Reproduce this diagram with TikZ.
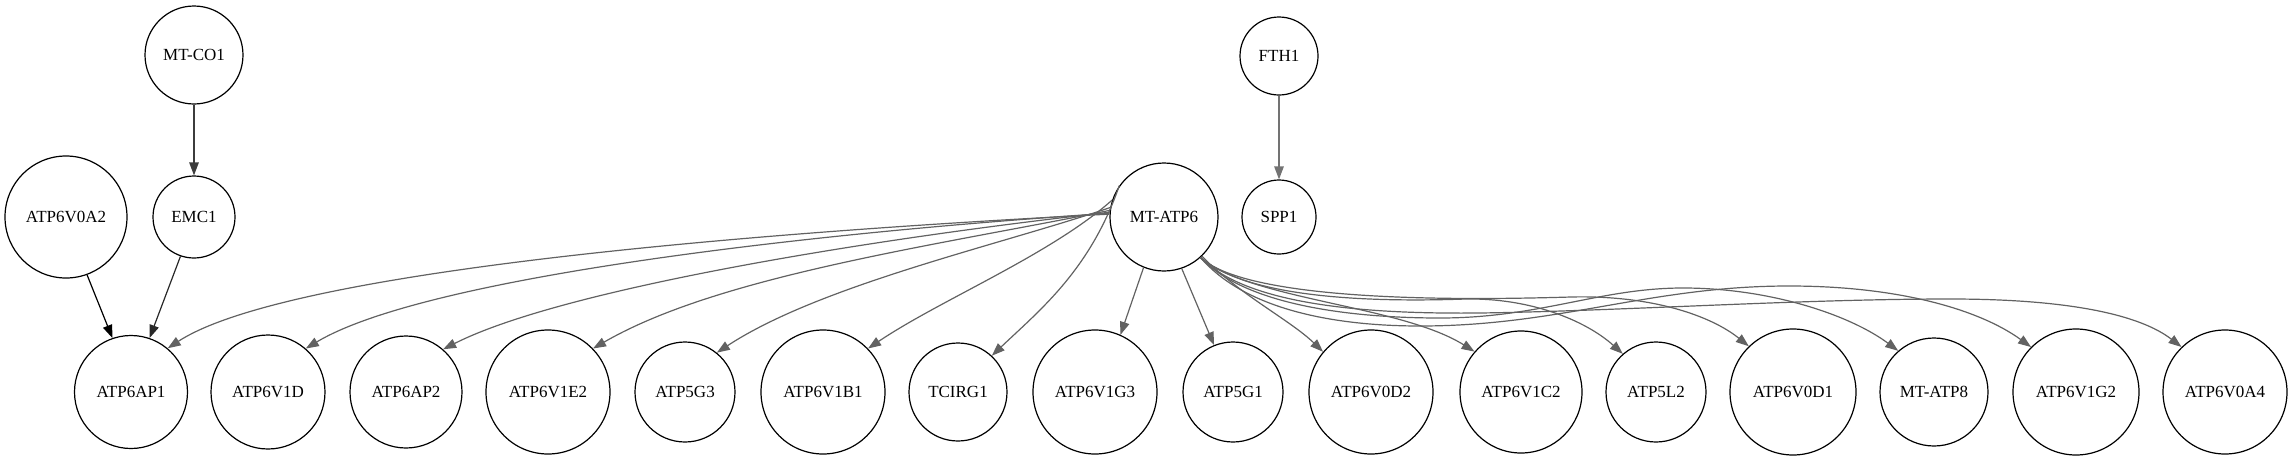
\documentclass[tikz,border=0pt]{standalone}
\usepackage{fontspec}
\setmainfont{Liberation Serif}
\usetikzlibrary{arrows.meta}
\definecolor{edgegray}{RGB}{98,98,98}
\definecolor{darkedge}{RGB}{60,60,60}
\definecolor{darkeredge}{RGB}{40,40,40}
\definecolor{lightedge}{RGB}{115,115,115}
\tikzset{
  gn/.style={circle, draw=black, line width=1.2pt, inner sep=0pt, font=\fontsize{17}{20}\selectfont},
  e/.style={draw=edgegray, line width=1.2pt, -{Triangle[length=13pt,width=9.5pt]}},
}
\begin{document}
\begin{tikzpicture}[x=1pt,y=-1pt]
\useasboundingbox (0,0) rectangle (2292,461);
% top rows
\node[gn, minimum size=98pt] (mtco1) at (194,55) {MT-CO1};
\node[gn, minimum size=122pt] (atp6v0a2) at (66,217) {ATP6V0A2};
\node[gn, minimum size=82pt] (emc1) at (194,217) {EMC1};
\node[gn, minimum size=108pt] (mtatp6) at (1164,217) {MT-ATP6};
\node[gn, minimum size=78pt] (fth1) at (1279,56) {FTH1};
\node[gn, minimum size=74pt] (spp1) at (1279,217) {SPP1};
% bottom row
\node[gn, minimum size=113pt] (atp6ap1) at (131,392) {ATP6AP1};
\node[gn, minimum size=114pt] (atp6v1d) at (268,392) {ATP6V1D};
\node[gn, minimum size=112pt] (atp6ap2) at (406,392) {ATP6AP2};
\node[gn, minimum size=124pt] (atp6v1e2) at (548,392) {ATP6V1E2};
\node[gn, minimum size=100pt] (atp5g3) at (685,392) {ATP5G3};
\node[gn, minimum size=124pt] (atp6v1b1) at (823,392) {ATP6V1B1};
\node[gn, minimum size=98pt] (tcirg1) at (958,392) {TCIRG1};
\node[gn, minimum size=124pt] (atp6v1g3) at (1095,392) {ATP6V1G3};
\node[gn, minimum size=100pt] (atp5g1) at (1233,392) {ATP5G1};
\node[gn, minimum size=124pt] (atp6v0d2) at (1371,392) {ATP6V0D2};
\node[gn, minimum size=122pt] (atp6v1c2) at (1521,392) {ATP6V1C2};
\node[gn, minimum size=100pt] (atp5l2) at (1656,392) {ATP5L2};
\node[gn, minimum size=126pt] (atp6v0d1) at (1793,392) {ATP6V0D1};
\node[gn, minimum size=108pt] (mtatp8) at (1934,392) {MT-ATP8};
\node[gn, minimum size=126pt] (atp6v1g2) at (2076,392) {ATP6V1G2};
\node[gn, minimum size=124pt] (atp6v0a4) at (2225,392) {ATP6V0A4};
% simple edges
\draw[e, draw=darkedge, -{Triangle[length=13pt,width=9.5pt,fill=darkedge]}] (mtco1) -- (emc1);
\draw[e, draw=black] (atp6v0a2.-70) -- (atp6ap1.109);
\draw[e, draw=darkeredge] (emc1.-109) -- (atp6ap1.71);
\draw[e, draw=lightedge] (fth1) -- (spp1);
% MT-ATP6 fan to the left
\draw[e] (mtatp6.177) .. controls (700,235) and (280,275) .. (atp6ap1.50);
\draw[e] (mtatp6.176) .. controls (780,235) and (420,280) .. (atp6v1d.49);
\draw[e] (mtatp6.175) .. controls (860,240) and (560,290) .. (atp6ap2.49);
\draw[e] (mtatp6.173) .. controls (940,245) and (720,275) .. (atp6v1e2.44);
\draw[e] (mtatp6.170) .. controls (1000,245) and (820,285) .. (atp5g3.51);
\draw[e] (mtatp6.162) .. controls (1050,255) and (940,300) .. (atp6v1b1.44);
\draw[e] (mtatp6.145) .. controls (1090,270) and (1040,310) .. (tcirg1.47);
\draw[e] (mtatp6.-112) -- (atp6v1g3.66);
\draw[e] (mtatp6.-71) -- (atp5g1.112);
\draw[e] (mtatp6.-46) .. controls (1240,295) and (1290,320) .. (atp6v0d2.140);
% bundle to the right
\draw[e] (mtatp6.-48) .. controls (1250,300) and (1400,305) .. (atp6v1c2.139);
\draw[e] (mtatp6.-48) .. controls (1250,300) and (1380,302) .. (1466,299)
   .. controls (1530,298) and (1585,320) .. (atp5l2.131);
\draw[e] (mtatp6.-48) .. controls (1250,303) and (1470,300) .. (1571,297)
   .. controls (1650,295) and (1710,315) .. (atp6v0d1.134);
\draw[e] (mtatp6.-48) .. controls (1250,310) and (1370,318) .. (1440,318)
   .. controls (1540,318) and (1600,288) .. (1683,288)
   .. controls (1770,288) and (1850,315) .. (mtatp8.131);
\draw[e] (mtatp6.-48) .. controls (1250,315) and (1350,326) .. (1420,326)
   .. controls (1560,326) and (1650,286) .. (1789,286)
   .. controls (1900,286) and (1980,310) .. (atp6v1g2.135);
\draw[e] (mtatp6.-48) .. controls (1250,308) and (1380,314) .. (1480,313)
   .. controls (1620,311) and (1800,299) .. (1950,299)
   .. controls (2070,299) and (2140,315) .. (atp6v0a4.134);
\end{tikzpicture}
\end{document}
